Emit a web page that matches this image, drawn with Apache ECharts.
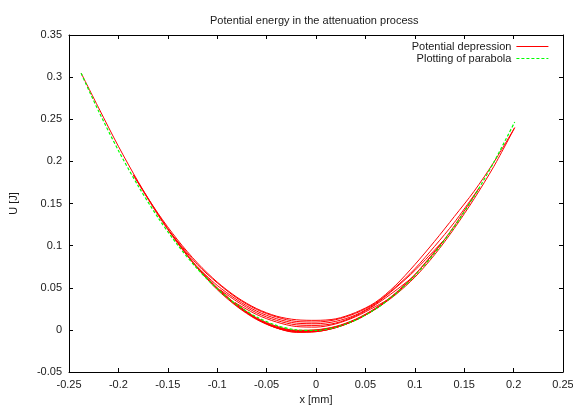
<!DOCTYPE html>
<html><head><meta charset="utf-8">
<script src="https://cdn.jsdelivr.net/npm/echarts@6/dist/echarts.min.js"></script>
<style>html,body{margin:0;padding:0;background:#fff}#c{width:573px;height:406px}</style>
</head><body><div id="c"></div>
<script>
const chartTitle = 'Potential energy in the attenuation process';
const xName = 'x [mm]';
const yName = 'U [J]';
const seriesNames = ['Potential depression', 'Plotting of parabola'];

const depressionX = [
  -0.2377,-0.22,-0.20,-0.18,-0.16,-0.14,-0.12,-0.10,-0.08,-0.06,-0.04,-0.02,0.00,0.02,0.04,0.06,0.08,0.10,0.12,0.14,0.16,0.18,0.2011,
  0.18,0.16,0.14,0.12,0.10,0.08,0.06,0.04,0.02,0.00,-0.02,-0.04,-0.06,-0.08,-0.10,-0.12,-0.14,-0.16,-0.185,
  -0.16,-0.14,-0.12,-0.10,-0.08,-0.06,-0.04,-0.02,0.00,0.02,0.04,0.06,0.08,0.10,0.12,0.14,0.165,
  0.14,0.12,0.10,0.08,0.06,0.04,0.02,0.00,-0.02,-0.04,-0.06,-0.08,-0.10,-0.12,-0.148,
  -0.12,-0.10,-0.08,-0.06,-0.04,-0.02,0.00,0.02,0.04,0.06,0.08,0.10,0.13,
  0.10,0.08,0.06,0.04,0.02,0.00,-0.02,-0.04,-0.06,-0.08,-0.10,-0.12,
  -0.10,-0.08,-0.06,-0.04,-0.02,0.00,0.02,0.04,0.06,0.08,0.10,
  0.08,0.06,0.04,0.02,0.00,-0.02,-0.04,-0.06,-0.08,-0.097,
  -0.08,-0.06,-0.04,-0.02,0.00,0.02,0.04,0.06,0.075,
  0.06,0.04,0.02,0.00,-0.02,-0.04,-0.06,-0.082,
  -0.06,-0.04,-0.02,0.00,0.02,0.04,0.058
];
const depressionU = [
  0.3047,0.2635,0.2179,0.1759,0.1375,0.1037,0.0734,0.0478,0.0277,0.0122,0.0023,-0.002,-0.0017,0.0031,0.0116,0.0246,0.0412,0.0624,0.0891,0.1205,0.1555,0.1940,0.2400,
  0.1990,0.1645,0.1345,0.1051,0.0774,0.0522,0.0326,0.0206,0.0131,0.0113,0.012,0.0163,0.0252,0.0387,0.0568,0.0794,0.1067,0.1385,0.1840,
  0.1365,0.1027,0.0734,0.0488,0.0287,0.0132,0.0033,-0.001,0.0000,0.0041,0.0126,0.0256,0.0432,0.0654,0.0921,0.1235,0.1682,
  0.1275,0.0991,0.0724,0.0502,0.0316,0.0196,0.0121,0.0093,0.0100,0.0153,0.0242,0.0377,0.0558,0.0774,0.1163,
  0.0744,0.0498,0.0297,0.0142,0.0043,-0.0005,-0.0002,0.0036,0.0121,0.0251,0.0427,0.0654,0.1072,
  0.0704,0.0492,0.0306,0.0176,0.0101,0.0073,0.008,0.0133,0.0222,0.0357,0.0528,0.0744,
  0.0498,0.0287,0.0132,0.0033,-0.0015,-0.0012,0.0031,0.0116,0.0246,0.0422,0.0644,
  0.0462,0.0296,0.0166,0.0081,0.0053,0.006,0.0113,0.0202,0.0337,0.0476,
  0.0287,0.0132,0.0023,-0.0025,-0.002,0.0026,0.0116,0.0246,0.0373,
  0.0276,0.0156,0.0071,0.0033,0.004,0.0093,0.0182,0.0324,
  0.0132,0.0023,-0.003,-0.0022,0.0026,0.0116,0.0231
];
const parabolaX = [-0.2377,-0.22,-0.20,-0.18,-0.16,-0.14,-0.12,-0.10,-0.08,-0.06,-0.04,-0.02,0.00,0.02,0.04,0.06,0.08,0.10,0.12,0.14,0.16,0.18,0.2011];
const parabolaU = [0.3045,0.2595,0.2129,0.1709,0.1335,0.1007,0.0724,0.0488,0.0297,0.0152,0.0053,0.0000,-0.0007,0.0031,0.0116,0.0246,0.0422,0.0644,0.0911,0.1225,0.1585,0.1990,0.2467];

const xMin = -0.25, xMax = 0.25, xStep = 0.05;
const yMin = -0.05, yMax = 0.35, yStep = 0.05;

const FONT = 'Liberation Sans, Arial, Helvetica, sans-serif';
const TXT = '#1a1a1a';
const fmt = v => String(parseFloat(v.toFixed(2)));

function axisBase(show) {
  return {
    type: 'value',
    axisLine: { show: true, onZero: false, lineStyle: { color: '#000', width: 1 } },
    axisTick: { show: true, inside: true, length: 4, lineStyle: { color: '#000' } },
    splitLine: { show: false },
    axisLabel: { show: show, color: TXT, fontSize: 11, fontFamily: FONT, formatter: fmt },
  };
}

const chart = echarts.init(document.getElementById('c'), null, { renderer: 'canvas' });
chart.setOption({
  animation: false,
  backgroundColor: '#fff',
  title: {
    text: chartTitle, left: 205, top: 10,
    textStyle: { fontSize: 11, fontWeight: 'normal', color: TXT, fontFamily: FONT }
  },
  grid: { left: 69, right: 10, top: 35, bottom: 34, containLabel: false, outerBoundsMode: 'none' },
  legend: {
    orient: 'vertical', right: 24, top: 41, align: 'right', padding: 0,
    itemWidth: 32, itemHeight: 10, itemGap: 1,
    itemStyle: { color: 'rgba(0,0,0,0)', borderColor: 'rgba(0,0,0,0)', borderWidth: 0 },
    lineStyle: { width: 1.2 },
    textStyle: { fontSize: 11, color: TXT, fontFamily: FONT },
    data: seriesNames
  },
  xAxis: [
    Object.assign(axisBase(true), { position: 'bottom', min: xMin, max: xMax, interval: xStep,
      axisLabel: { color: TXT, fontSize: 11, fontFamily: FONT, formatter: fmt, margin: 7 },
      name: xName, nameLocation: 'middle', nameGap: 22,
      nameTextStyle: { fontSize: 11, color: TXT, fontFamily: FONT } }),
    Object.assign(axisBase(false), { position: 'top', min: xMin, max: xMax, interval: xStep })
  ],
  yAxis: [
    Object.assign(axisBase(true), { position: 'left', min: yMin, max: yMax, interval: yStep,
      axisLabel: { color: TXT, fontSize: 11, fontFamily: FONT, formatter: fmt, margin: 7 },
      name: yName, nameLocation: 'middle', nameGap: 50,
      nameTextStyle: { fontSize: 11, color: TXT, fontFamily: FONT } }),
    Object.assign(axisBase(false), { position: 'right', min: yMin, max: yMax, interval: yStep })
  ],
  series: [
    {
      name: seriesNames[0], type: 'line', xAxisIndex: 0, yAxisIndex: 0,
      symbol: 'none', showSymbol: false, smooth: 0.3,
      lineStyle: { color: '#ff0000', width: 1 }, itemStyle: { color: '#ff0000' },
      data: depressionX.map((x, i) => [x, depressionU[i]])
    },
    {
      name: seriesNames[1], type: 'line', xAxisIndex: 0, yAxisIndex: 0,
      symbol: 'none', showSymbol: false, smooth: 0.3,
      lineStyle: { color: '#00ff00', width: 1.2, type: [3, 2] }, itemStyle: { color: '#00ff00' },
      data: parabolaX.map((x, i) => [x, parabolaU[i]])
    }
  ]
});
</script></body></html>
